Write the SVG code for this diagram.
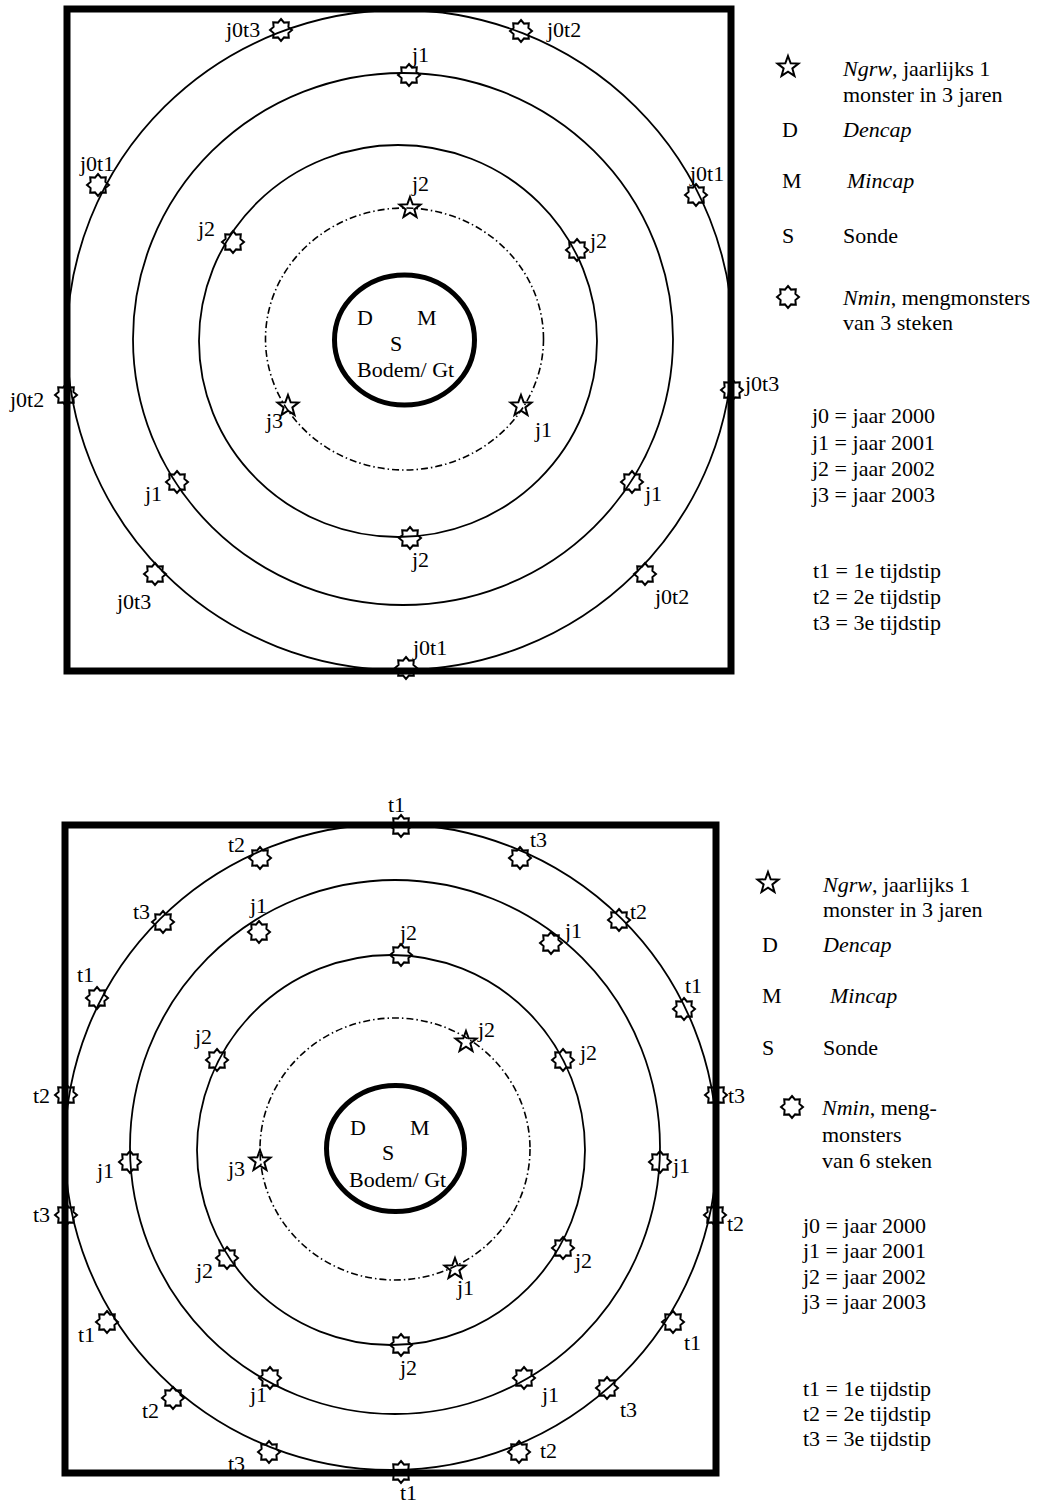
<svg xmlns="http://www.w3.org/2000/svg" xmlns:xlink="http://www.w3.org/1999/xlink" width="1037" height="1502" viewBox="0 0 1037 1502">
<style>
text{font-family:"Liberation Serif","Times New Roman",serif;font-size:22px;fill:#000}
.it{font-style:italic}
.box{fill:none;stroke:#000;stroke-width:7}
.ring{fill:none;stroke:#000;stroke-width:1.8}
.dash{fill:none;stroke:#000;stroke-width:1.6;stroke-dasharray:7 3 1.5 3}
.core{fill:none;stroke:#000;stroke-width:5}
.mk{fill:none;stroke:#000;stroke-width:2;stroke-linejoin:miter}
</style>
<defs>
<path id="nmin" class="mk" d="M0,-11 L3.06,-7.39 L7.78,-7.78 L7.39,-3.06 L11,0 L7.39,3.06 L7.78,7.78 L3.06,7.39 L0,11 L-3.06,7.39 L-7.78,7.78 L-7.39,3.06 L-11,0 L-7.39,-3.06 L-7.78,-7.78 L-3.06,-7.39 Z"/>
<path id="ngrw" class="mk" d="M0,-11 L2.70,-3.72 L10.46,-3.40 L4.37,1.42 L6.47,8.90 L0,4.6 L-6.47,8.90 L-4.37,1.42 L-10.46,-3.40 L-2.70,-3.72 Z"/>
</defs>

<!-- ===== TOP DIAGRAM ===== -->
<g id="top-plot">
<g id="top-rings">
<ellipse class="ring" cx="400" cy="340" rx="333" ry="330"/>
<ellipse class="ring" cx="403" cy="339" rx="270" ry="266"/>
<ellipse class="ring" cx="398" cy="341" rx="199" ry="196"/>
<ellipse class="dash" cx="404.5" cy="339" rx="139" ry="131"/>
<ellipse class="core" cx="404.5" cy="340" rx="70" ry="65"/>
</g>
<rect id="top-box" class="box" x="67" y="9" width="664" height="662"/>
<g id="top-core-labels">
<text x="357" y="325">D</text>
<text x="417" y="325">M</text>
<text x="390" y="351">S</text>
<text x="357" y="377">Bodem/ Gt</text>
</g>
<g id="top-markers">
<use xlink:href="#nmin" x="281" y="30"/>
<use xlink:href="#nmin" x="521" y="31"/>
<use xlink:href="#nmin" x="409" y="75"/>
<use xlink:href="#nmin" x="98" y="185"/>
<use xlink:href="#nmin" x="696" y="195"/>
<use xlink:href="#nmin" x="233" y="242"/>
<use xlink:href="#nmin" x="577" y="250"/>
<use xlink:href="#nmin" x="66" y="395"/>
<use xlink:href="#nmin" x="732" y="390"/>
<use xlink:href="#nmin" x="177" y="482"/>
<use xlink:href="#nmin" x="632" y="482"/>
<use xlink:href="#nmin" x="410" y="538"/>
<use xlink:href="#nmin" x="155" y="574"/>
<use xlink:href="#nmin" x="645" y="574"/>
<use xlink:href="#nmin" x="406" y="668"/>
<use xlink:href="#ngrw" x="410" y="208"/>
<use xlink:href="#ngrw" x="288" y="406"/>
<use xlink:href="#ngrw" x="521" y="406"/>
</g>
<g id="top-labels">
<text x="226" y="37">j0t3</text>
<text x="547" y="37">j0t2</text>
<text x="412" y="62">j1</text>
<text x="80" y="171">j0t1</text>
<text x="690" y="181">j0t1</text>
<text x="412" y="191">j2</text>
<text x="198" y="236">j2</text>
<text x="590" y="248">j2</text>
<text x="10" y="407">j0t2</text>
<text x="745" y="391">j0t3</text>
<text x="266" y="428">j3</text>
<text x="535" y="437">j1</text>
<text x="145" y="501">j1</text>
<text x="645" y="501">j1</text>
<text x="412" y="567">j2</text>
<text x="117" y="609">j0t3</text>
<text x="655" y="604">j0t2</text>
<text x="413" y="655">j0t1</text>
</g>
</g>
<g id="top-legend">
<use xlink:href="#ngrw" x="788" y="67"/>
<text x="843" y="76"><tspan class="it">Ngrw</tspan>, jaarlijks 1</text>
<text x="843" y="102">monster in 3 jaren</text>
<text x="782" y="137">D</text><text class="it" x="843" y="137">Dencap</text>
<text x="782" y="188">M</text><text class="it" x="847" y="188">Mincap</text>
<text x="782" y="243">S</text><text x="843" y="243">Sonde</text>
<use xlink:href="#nmin" x="788" y="297"/>
<text x="843" y="305"><tspan class="it">Nmin</tspan>, mengmonsters</text>
<text x="843" y="330">van 3 steken</text>
<text x="812" y="423">j0 = jaar 2000</text>
<text x="812" y="450">j1 = jaar 2001</text>
<text x="812" y="476">j2 = jaar 2002</text>
<text x="812" y="502">j3 = jaar 2003</text>
<text x="813" y="578">t1 = 1e tijdstip</text>
<text x="813" y="604">t2 = 2e tijdstip</text>
<text x="813" y="630">t3 = 3e tijdstip</text>
</g>

<!-- ===== BOTTOM DIAGRAM ===== -->
<g id="bottom-plot">
<g id="bottom-rings">
<ellipse class="ring" cx="391" cy="1147" rx="326" ry="323"/>
<ellipse class="ring" cx="395" cy="1147" rx="265" ry="267"/>
<ellipse class="ring" cx="391" cy="1150" rx="194" ry="195"/>
<ellipse class="dash" cx="395" cy="1149" rx="135" ry="131"/>
<ellipse class="core" cx="395.5" cy="1148.5" rx="69" ry="63"/>
</g>
<text x="228" y="1471">t3</text>
<rect id="bottom-box" class="box" x="65" y="825" width="651" height="648"/>
<g id="bottom-core-labels">
<text x="350" y="1135">D</text>
<text x="410" y="1135">M</text>
<text x="382" y="1160">S</text>
<text x="349" y="1187">Bodem/ Gt</text>
</g>
<g id="bottom-markers">
<use xlink:href="#nmin" x="401" y="826"/>
<use xlink:href="#nmin" x="520" y="858"/>
<use xlink:href="#nmin" x="260" y="858"/>
<use xlink:href="#nmin" x="163" y="922"/>
<use xlink:href="#nmin" x="619" y="920"/>
<use xlink:href="#nmin" x="97" y="998"/>
<use xlink:href="#nmin" x="684" y="1009"/>
<use xlink:href="#nmin" x="66" y="1095"/>
<use xlink:href="#nmin" x="716" y="1095"/>
<use xlink:href="#nmin" x="66" y="1215"/>
<use xlink:href="#nmin" x="715" y="1215"/>
<use xlink:href="#nmin" x="107" y="1322"/>
<use xlink:href="#nmin" x="673" y="1322"/>
<use xlink:href="#nmin" x="173" y="1398"/>
<use xlink:href="#nmin" x="607" y="1388"/>
<use xlink:href="#nmin" x="269" y="1452"/>
<use xlink:href="#nmin" x="519" y="1452"/>
<use xlink:href="#nmin" x="401" y="1472"/>
<use xlink:href="#nmin" x="259" y="932"/>
<use xlink:href="#nmin" x="551" y="943"/>
<use xlink:href="#nmin" x="130" y="1162"/>
<use xlink:href="#nmin" x="660" y="1162"/>
<use xlink:href="#nmin" x="270" y="1378"/>
<use xlink:href="#nmin" x="524" y="1378"/>
<use xlink:href="#nmin" x="401" y="955"/>
<use xlink:href="#nmin" x="217" y="1060"/>
<use xlink:href="#nmin" x="563" y="1060"/>
<use xlink:href="#nmin" x="227" y="1258"/>
<use xlink:href="#nmin" x="563" y="1248"/>
<use xlink:href="#nmin" x="401" y="1345"/>
<use xlink:href="#ngrw" x="466" y="1042"/>
<use xlink:href="#ngrw" x="260" y="1161"/>
<use xlink:href="#ngrw" x="455" y="1269"/>
</g>
<g id="bottom-labels">
<text x="388" y="812">t1</text>
<text x="530" y="847">t3</text>
<text x="228" y="852">t2</text>
<text x="133" y="919">t3</text>
<text x="630" y="919">t2</text>
<text x="77" y="982">t1</text>
<text x="685" y="993">t1</text>
<text x="33" y="1103">t2</text>
<text x="728" y="1103">t3</text>
<text x="33" y="1222">t3</text>
<text x="727" y="1231">t2</text>
<text x="78" y="1342">t1</text>
<text x="684" y="1350">t1</text>
<text x="142" y="1418">t2</text>
<text x="620" y="1417">t3</text>
<text x="540" y="1458">t2</text>
<text x="400" y="1500">t1</text>
<text x="250" y="913">j1</text>
<text x="565" y="938">j1</text>
<text x="97" y="1178">j1</text>
<text x="673" y="1173">j1</text>
<text x="250" y="1402">j1</text>
<text x="542" y="1402">j1</text>
<text x="400" y="940">j2</text>
<text x="195" y="1044">j2</text>
<text x="580" y="1060">j2</text>
<text x="196" y="1278">j2</text>
<text x="575" y="1268">j2</text>
<text x="400" y="1375">j2</text>
<text x="478" y="1037">j2</text>
<text x="228" y="1176">j3</text>
<text x="457" y="1295">j1</text>
</g>
</g>
<g id="bottom-legend">
<use xlink:href="#ngrw" x="768" y="883"/>
<text x="823" y="892"><tspan class="it">Ngrw</tspan>, jaarlijks 1</text>
<text x="823" y="917">monster in 3 jaren</text>
<text x="762" y="952">D</text><text class="it" x="823" y="952">Dencap</text>
<text x="762" y="1003">M</text><text class="it" x="830" y="1003">Mincap</text>
<text x="762" y="1055">S</text><text x="823" y="1055">Sonde</text>
<use xlink:href="#nmin" x="792" y="1107"/>
<text x="822" y="1115"><tspan class="it">Nmin</tspan>, meng-</text>
<text x="822" y="1142">monsters</text>
<text x="822" y="1168">van 6 steken</text>
<text x="803" y="1233">j0 = jaar 2000</text>
<text x="803" y="1258">j1 = jaar 2001</text>
<text x="803" y="1284">j2 = jaar 2002</text>
<text x="803" y="1309">j3 = jaar 2003</text>
<text x="803" y="1396">t1 = 1e tijdstip</text>
<text x="803" y="1421">t2 = 2e tijdstip</text>
<text x="803" y="1446">t3 = 3e tijdstip</text>
</g>
</svg>
